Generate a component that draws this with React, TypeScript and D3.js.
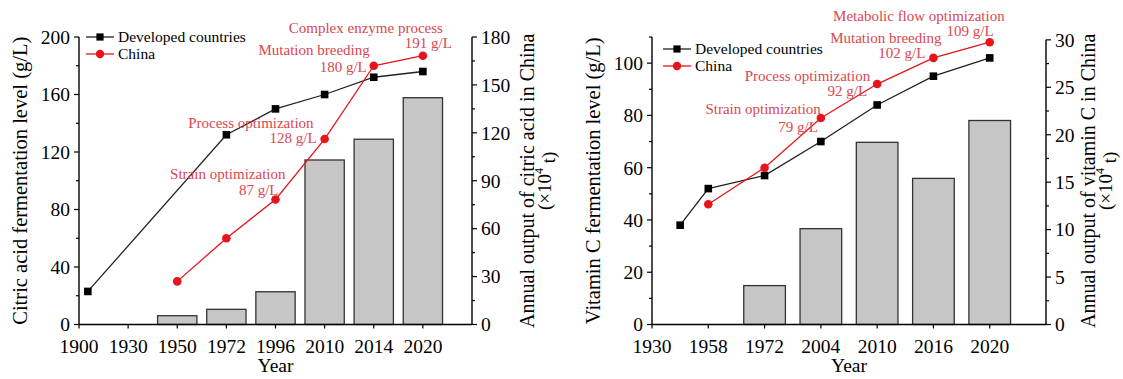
import React from 'react';
import * as d3 from 'd3';

// ---- citric acid panel data ----
const citricYears = ['1900', '1930', '1950', '1972', '1996', '2010', '2014', '2020'];
const citricDevIdx = [0.18, 3, 4, 5, 6, 7];
const citricDev = [23, 132, 150, 160, 172, 176];
const citricChinaIdx = [2, 3, 4, 5, 6, 7];
const citricChina = [30, 60, 87, 129, 180, 187];
const citricOutputIdx = [2, 3, 4, 5, 6, 7];
const citricOutput = [5.5, 9.5, 20.5, 103, 116, 142];
const citricNoteIdx = [4, 5, 6, 7];
const citricNoteTitles = ['Strain optimization', 'Process optimization', 'Mutation breeding', 'Complex enzyme process'];
const citricNoteValues = ['87 g/L', '128 g/L', '180 g/L', '191 g/L'];

// ---- vitamin C panel data ----
const vitYears = ['1930', '1958', '1972', '2004', '2010', '2016', '2020'];
const vitDevIdx = [0.5, 1, 2, 3, 4, 5, 6];
const vitDev = [38, 52, 57, 70, 84, 95, 102];
const vitChinaIdx = [1, 2, 3, 4, 5, 6];
const vitChina = [46, 60, 79, 92, 102, 108];
const vitOutputIdx = [2, 3, 4, 5, 6];
const vitOutput = [4.1, 10.1, 19.2, 15.4, 21.5];
const vitNoteIdx = [3, 4, 5, 6];
const vitNoteTitles = ['Strain optimization', 'Process optimization', 'Mutation breeding', 'Metabolic flow optimization'];
const vitNoteValues = ['79 g/L', '92 g/L', '102 g/L', '109 g/L'];

const RED = '#e8141c';
const NOTE = '#d9474f';
const FONT = '"Liberation Serif", "Times New Roman", serif';

type Offset = { tdx: number; tdy: number; vdx: number; vdy: number };

type PanelProps = {
  x0: number;
  x1: number;
  years: string[];
  slots: number;
  leftMax: number;
  leftStep: number;
  leftTop: number;
  rightMax: number;
  rightStep: number;
  rightTop: number;
  devIdx: number[];
  dev: number[];
  chinaIdx: number[];
  china: number[];
  outIdx: number[];
  out: number[];
  barFrac: number;
  noteIdx: number[];
  noteTitles: string[];
  noteValues: string[];
  noteOffsets: Offset[];
  leftLabel: string;
  rightLabel: string;
  leftLabelX: number;
  rightLabelX: number;
  legendX: number;
  legendY: number;
};

const Panel = (p: PanelProps) => {
  const top = 37;
  const bottom = 324.5;
  const x = d3.scaleLinear().domain([0, p.slots]).range([p.x0, p.x1]);
  const yL = d3.scaleLinear().domain([0, p.leftTop]).range([bottom, top]);
  const yR = d3.scaleLinear().domain([0, p.rightTop]).range([bottom, top]);
  const step = x(1) - x(0);
  const bw = step * p.barFrac;

  const lineL = d3
    .line<[number, number]>()
    .x((d) => x(d[0]))
    .y((d) => yL(d[1]));

  const devPts: [number, number][] = p.devIdx.map((d, i) => [d, p.dev[i]]);
  const chinaPts: [number, number][] = p.chinaIdx.map((d, i) => [d, p.china[i]]);

  const leftMajor = d3.range(0, p.leftMax + 0.001, p.leftStep);
  const leftMinor = d3.range(p.leftStep / 2, p.leftTop + 0.001, p.leftStep).filter((v) => !leftMajor.includes(v));
  const rightMajor = d3.range(0, p.rightMax + 0.001, p.rightStep);
  const rightMinor = d3.range(p.rightStep / 2, p.rightMax, p.rightStep);
  const midY = (top + bottom) / 2;

  return (
    <g fontFamily={FONT}>
      {/* bars on the right axis */}
      {p.outIdx.map((d, i) => (
        <rect
          key={'b' + i}
          x={x(d) - bw / 2}
          y={yR(p.out[i])}
          width={bw}
          height={bottom - yR(p.out[i])}
          fill="#c6c6c6"
          stroke="#333"
          strokeWidth={1.3}
        />
      ))}

      {/* axes */}
      <line x1={p.x0} x2={p.x1} y1={bottom} y2={bottom} stroke="#000" strokeWidth={1.4} />
      <line x1={p.x0} x2={p.x0} y1={top} y2={bottom} stroke="#000" strokeWidth={1.4} />
      <line x1={p.x1} x2={p.x1} y1={yR(p.rightMax)} y2={bottom} stroke="#000" strokeWidth={1.4} />

      {leftMajor.map((v) => (
        <g key={'lm' + v}>
          <line x1={p.x0 - 5} x2={p.x0} y1={yL(v)} y2={yL(v)} stroke="#000" strokeWidth={1.2} />
          <text x={p.x0 - 9} y={yL(v)} dy="0.35em" textAnchor="end" fontSize={19.5}>
            {v}
          </text>
        </g>
      ))}
      {leftMinor.map((v) => (
        <line key={'ln' + v} x1={p.x0 - 3} x2={p.x0} y1={yL(v)} y2={yL(v)} stroke="#000" strokeWidth={1.2} />
      ))}
      {rightMajor.map((v) => (
        <g key={'rm' + v}>
          <line x1={p.x1} x2={p.x1 + 5} y1={yR(v)} y2={yR(v)} stroke="#000" strokeWidth={1.2} />
          <text x={p.x1 + 9} y={yR(v)} dy="0.35em" textAnchor="start" fontSize={19.5}>
            {v}
          </text>
        </g>
      ))}
      {rightMinor.map((v) => (
        <line key={'rn' + v} x1={p.x1} x2={p.x1 + 3} y1={yR(v)} y2={yR(v)} stroke="#000" strokeWidth={1.2} />
      ))}
      {p.years.map((yr, i) => (
        <g key={'x' + yr}>
          <line x1={x(i)} x2={x(i)} y1={bottom} y2={bottom + 4} stroke="#000" strokeWidth={1.2} />
          <text x={x(i)} y={bottom + 28} textAnchor="middle" fontSize={19.5}>
            {yr}
          </text>
        </g>
      ))}
      <text x={(p.x0 + p.x1) / 2} y={372} textAnchor="middle" fontSize={19.5}>
        Year
      </text>

      {/* axis titles */}
      <text
        transform={`translate(${p.leftLabelX},${midY}) rotate(-90)`}
        textAnchor="middle"
        dy="0.35em"
        fontSize={20.5}
      >
        {p.leftLabel}
      </text>
      <text
        transform={`translate(${p.rightLabelX},${midY}) rotate(-90)`}
        textAnchor="middle"
        dy="0.35em"
        fontSize={20}
      >
        {p.rightLabel}
      </text>
      <text
        transform={`translate(${p.rightLabelX + 17},${midY}) rotate(-90)`}
        textAnchor="middle"
        dy="0.35em"
        fontSize={19}
      >
        (×10<tspan fontSize={12} dy="-0.6em">4</tspan>
        <tspan dy="0.6em"> t)</tspan>
      </text>

      {/* lines */}
      <path d={lineL(devPts) ?? ''} fill="none" stroke="#222" strokeWidth={1.3} />
      <path d={lineL(chinaPts) ?? ''} fill="none" stroke={RED} strokeWidth={1.3} />
      {devPts.map((d, i) => (
        <rect key={'dp' + i} x={x(d[0]) - 3.8} y={yL(d[1]) - 3.8} width={7.6} height={7.6} fill="#000" />
      ))}
      {chinaPts.map((d, i) => (
        <circle key={'cp' + i} cx={x(d[0])} cy={yL(d[1])} r={4.3} fill={RED} />
      ))}

      {/* annotations */}
      {p.noteIdx.map((d, i) => {
        const o = p.noteOffsets[i];
        const px = x(d);
        const py = yL(p.china[p.chinaIdx.indexOf(d)]);
        return (
          <g key={'n' + i} fill={NOTE} fontSize={15} textAnchor="end">
            <text x={px + o.tdx} y={py + o.tdy} dy="0.35em">
              {p.noteTitles[i]}
            </text>
            <text x={px + o.vdx} y={py + o.vdy} dy="0.35em">
              {p.noteValues[i]}
            </text>
          </g>
        );
      })}

      {/* legend */}
      <g fontSize={15.5}>
        <line x1={p.legendX} x2={p.legendX + 28} y1={p.legendY} y2={p.legendY} stroke="#222" strokeWidth={1.3} />
        <rect x={p.legendX + 14 - 3.6} y={p.legendY - 3.6} width={7.2} height={7.2} fill="#000" />
        <text x={p.legendX + 32} y={p.legendY} dy="0.35em">
          Developed countries
        </text>
        <line x1={p.legendX} x2={p.legendX + 28} y1={p.legendY + 17} y2={p.legendY + 17} stroke={RED} strokeWidth={1.3} />
        <circle cx={p.legendX + 14} cy={p.legendY + 17} r={4.2} fill={RED} />
        <text x={p.legendX + 32} y={p.legendY + 17} dy="0.35em">
          China
        </text>
      </g>
    </g>
  );
};

const citricOffsets: Offset[] = [
  { tdx: 10, tdy: -26, vdx: 3, vdy: -10 },
  { tdx: -11, tdy: -16, vdx: -8, vdy: -1 },
  { tdx: -4, tdy: -16, vdx: -7, vdy: 1 },
  { tdx: 20, tdy: -28, vdx: 29, vdy: -13 },
];
const vitOffsets: Offset[] = [
  { tdx: 0, tdy: -9, vdx: -3, vdy: 9 },
  { tdx: -7, tdy: -8, vdx: -10, vdy: 7 },
  { tdx: 8, tdy: -20, vdx: -8, vdy: -5 },
  { tdx: 15, tdy: -26, vdx: 4, vdy: -11 },
];

export default function App() {
  return (
    <svg
      width={1123}
      height={379}
      style={{ position: 'absolute', left: 0, top: 0, background: '#fff' }}
    >
      <Panel
        x0={79}
        x1={472}
        years={citricYears}
        slots={8}
        leftMax={200}
        leftStep={40}
        leftTop={200}
        rightMax={180}
        rightStep={30}
        rightTop={180}
        devIdx={citricDevIdx}
        dev={citricDev}
        chinaIdx={citricChinaIdx}
        china={citricChina}
        outIdx={citricOutputIdx}
        out={citricOutput}
        barFrac={0.8}
        noteIdx={citricNoteIdx}
        noteTitles={citricNoteTitles}
        noteValues={citricNoteValues}
        noteOffsets={citricOffsets}
        leftLabel="Citric acid fermentation level (g/L)"
        rightLabel="Annual output of citric acid in China"
        leftLabelX={20}
        rightLabelX={527}
        legendX={86}
        legendY={37}
      />
      <Panel
        x0={652}
        x1={1046}
        years={vitYears}
        slots={7}
        leftMax={100}
        leftStep={20}
        leftTop={110}
        rightMax={30}
        rightStep={5}
        rightTop={30.3}
        devIdx={vitDevIdx}
        dev={vitDev}
        chinaIdx={vitChinaIdx}
        china={vitChina}
        outIdx={vitOutputIdx}
        out={vitOutput}
        barFrac={0.74}
        noteIdx={vitNoteIdx}
        noteTitles={vitNoteTitles}
        noteValues={vitNoteValues}
        noteOffsets={vitOffsets}
        leftLabel="Vitamin C fermentation level (g/L)"
        rightLabel="Annual output of vitamin C in China"
        leftLabelX={593}
        rightLabelX={1088}
        legendX={663}
        legendY={49}
      />
    </svg>
  );
}
